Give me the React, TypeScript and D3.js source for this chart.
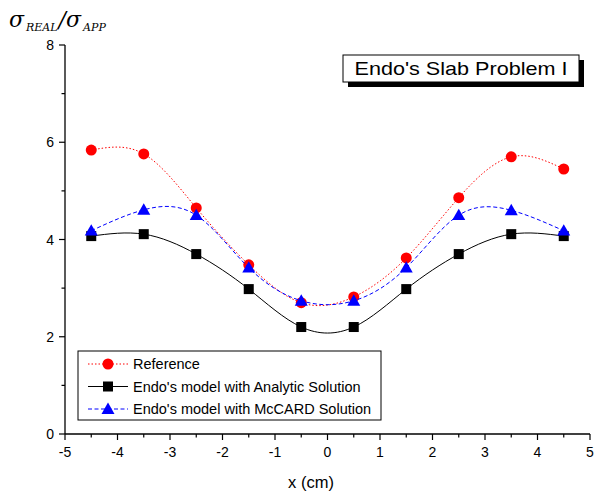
import React from 'react';
import * as d3 from 'd3';

const xs = [-4.5, -3.5, -2.5, -1.5, -0.5, 0.5, 1.5, 2.5, 3.5, 4.5];
const referenceVals = [5.84, 5.76, 4.65, 3.48, 2.7, 2.82, 3.62, 4.86, 5.7, 5.45];
const analyticVals = [4.07, 4.11, 3.7, 2.98, 2.2, 2.2, 2.98, 3.7, 4.11, 4.07];
const mccardVals = [4.18, 4.61, 4.5, 3.42, 2.74, 2.74, 3.42, 4.5, 4.6, 4.18];
const xTicks = [-5, -4, -3, -2, -1, 0, 1, 2, 3, 4, 5];
const yTicks = [0, 2, 4, 6, 8];
const legendLabels = [
  'Reference',
  "Endo's model with Analytic Solution",
  "Endo's model with McCARD Solution",
];

const W = 594;
const H = 493;
const font = 'Arial, "Liberation Sans", sans-serif';

const App = () => {
  const x = d3.scaleLinear().domain([-5, 5]).range([65, 590]);
  const y = d3.scaleLinear().domain([0, 8]).range([434, 45]);

  const line = d3
    .line<number>()
    .x((_, i) => x(xs[i]))
    .y(d => y(d))
    .curve(d3.curveNatural);

  const series = [
    { vals: referenceVals, color: '#ff0000', dash: '1.5,2', marker: 'circle' },
    { vals: analyticVals, color: '#000000', dash: 'none', marker: 'square' },
    { vals: mccardVals, color: '#0000ff', dash: '4,2.5', marker: 'triangle' },
  ];

  const marker = (type: string, cx: number, cy: number, color: string, key: string) => {
    if (type === 'circle') return <circle key={key} cx={cx} cy={cy} r={5.5} fill={color} />;
    if (type === 'square')
      return <rect key={key} x={cx - 5} y={cy - 5} width={10} height={10} fill={color} />;
    const s = 6.5;
    return (
      <path
        key={key}
        d={`M${cx},${cy - s}L${cx + s},${cy + s * 0.75}L${cx - s},${cy + s * 0.75}Z`}
        fill={color}
      />
    );
  };

  const minorX = d3.range(-4.5, 5, 1);
  const minorY = [1, 3, 5, 7];

  return (
    <svg width={W} height={H} style={{ position: 'absolute', left: 0, top: 0, background: '#fff' }}>
      <rect width={W} height={H} fill="#fff" />
      {/* axes */}
      <line x1={65} x2={65} y1={45} y2={434} stroke="#000" strokeWidth={1.3} />
      <line x1={65} x2={590} y1={434} y2={434} stroke="#000" strokeWidth={1.3} />
      {xTicks.map(t => (
        <g key={'xt' + t}>
          <line x1={x(t)} x2={x(t)} y1={434} y2={440} stroke="#000" strokeWidth={1.2} />
          <text x={x(t)} y={457} textAnchor="middle" fontFamily={font} fontSize={14}>
            {t}
          </text>
        </g>
      ))}
      {minorX.map(t => (
        <line key={'xm' + t} x1={x(t)} x2={x(t)} y1={434} y2={437.5} stroke="#000" strokeWidth={1.2} />
      ))}
      {yTicks.map(t => (
        <g key={'yt' + t}>
          <line x1={59} x2={65} y1={y(t)} y2={y(t)} stroke="#000" strokeWidth={1.2} />
          <text x={54} y={y(t) + 5} textAnchor="end" fontFamily={font} fontSize={14}>
            {t}
          </text>
        </g>
      ))}
      {minorY.map(t => (
        <line key={'ym' + t} x1={61.5} x2={65} y1={y(t)} y2={y(t)} stroke="#000" strokeWidth={1.2} />
      ))}
      <text x={311} y={488} textAnchor="middle" fontFamily={font} fontSize={16.5}>
        x (cm)
      </text>
      <text x={9} y={27} fontFamily='"DejaVu Serif", "Liberation Serif", serif' fontStyle="italic">
        <tspan fontSize={22}>σ</tspan>
        <tspan fontSize={11} dy={4} dx={2}>REAL</tspan>
        <tspan fontSize={22} dy={-4} dx={1}>/</tspan>
        <tspan fontSize={22}>σ</tspan>
        <tspan fontSize={11} dy={4} dx={2}>APP</tspan>
      </text>

      {/* series */}
      {series.map((s, i) => (
        <g key={'s' + i}>
          <path d={line(s.vals) || ''} fill="none" stroke={s.color} strokeWidth={1} strokeDasharray={s.dash} />
          {s.vals.map((v, j) => marker(s.marker, x(xs[j]), y(v), s.color, `m${i}-${j}`))}
        </g>
      ))}

      {/* title box */}
      <rect x={348} y={60} width={236} height={27} fill="#000" />
      <rect x={343} y={55} width={236} height={27} fill="#fff" stroke="#000" strokeWidth={1} />
      <text x={461} y={75} textAnchor="middle" fontFamily={font} fontSize={19} textLength={213} lengthAdjust="spacingAndGlyphs">
        Endo's Slab Problem I
      </text>

      {/* legend */}
      <rect x={78} y={351} width={303} height={69} fill="#fff" stroke="#000" strokeWidth={1} />
      {series.map((s, i) => {
        const ly = 364 + i * 22.5;
        return (
          <g key={'l' + i}>
            <line x1={88} x2={128} y1={ly} y2={ly} stroke={s.color} strokeWidth={1} strokeDasharray={s.dash} />
            {marker(s.marker, 108, ly, s.color, 'lm' + i)}
            <text x={133} y={ly + 5} fontFamily={font} fontSize={14.5}>
              {legendLabels[i]}
            </text>
          </g>
        );
      })}
    </svg>
  );
};

export default App;
